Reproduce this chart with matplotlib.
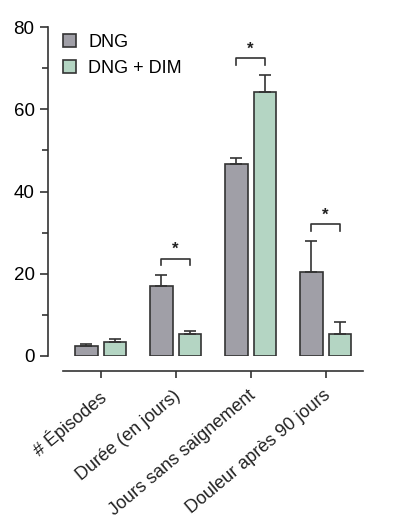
import matplotlib.pyplot as plt
import matplotlib.transforms as mtransforms
import numpy as np
from matplotlib.ticker import MultipleLocator

# Données
categories = ['# Épisodes', 'Durée (en jours)', 'Jours sans saignement', 'Douleur après 90 jours']
dng = [2.5, 17.0, 46.7, 20.4]
dng_err = [0.4, 2.7, 1.5, 7.6]
dim = [3.4, 5.3, 64.2, 5.3]
dim_err = [0.8, 0.8, 4.2, 3.0]
signif = [False, True, True, True]

plt.rcParams['font.family'] = ['Liberation Sans', 'DejaVu Sans']

fig = plt.figure(figsize=(3.96, 5.31), dpi=100)
ax = fig.add_axes([63/396, 1 - 356/531, 300/396, 329/531])

x = np.arange(len(categories))
w = 0.3
off = 0.19
gris = '#a09fa7'
vert = '#b4d5c3'
bord = '#333333'

ax.bar(x - off, dng, w, color=gris, edgecolor=bord, linewidth=1.2, label='DNG',
       yerr=[np.zeros(4), dng_err], capsize=4,
       error_kw=dict(ecolor=bord, elinewidth=1.2, capthick=1.2))
ax.bar(x + off, dim, w, color=vert, edgecolor=bord, linewidth=1.2, label='DNG + DIM',
       yerr=[np.zeros(4), dim_err], capsize=4,
       error_kw=dict(ecolor=bord, elinewidth=1.2, capthick=1.2))

# Crochets de significativité
for i, s in enumerate(signif):
    if not s:
        continue
    top = max(dng[i] + dng_err[i], dim[i] + dim_err[i]) + 4
    ax.plot([i - off, i - off, i + off, i + off], [top - 1.6, top, top, top - 1.6],
            color=bord, linewidth=1.2)
    ax.text(i, top + 0.4, '*', ha='center', va='bottom', fontsize=12, fontweight='bold', color='#222222')

ax.set_xlim(-0.5, 3.5)
ax.set_ylim(0, 80)
ax.set_yticks([0, 20, 40, 60, 80])
ax.yaxis.set_minor_locator(MultipleLocator(10))
ax.tick_params(axis='y', labelsize=13.5, length=6, width=1.2, color=bord)
ax.tick_params(axis='y', which='minor', length=4, width=1.2, color=bord)
ax.tick_params(axis='x', length=5, width=1.2, color=bord)
ax.set_xticks(x)
ax.set_xticklabels([])

# Étiquettes inclinées
trans = mtransforms.blended_transform_factory(ax.transData, ax.transAxes) + \
    mtransforms.ScaledTranslation(-3/100, -31/100, fig.dpi_scale_trans)
for i, c in enumerate(categories):
    ax.text(i, 0, c, transform=trans, rotation=40, rotation_mode='anchor',
            ha='right', va='top', fontsize=13, color='#222222')

for s in ['top', 'right']:
    ax.spines[s].set_visible(False)
ax.spines['left'].set_position(('outward', 11))
ax.spines['bottom'].set_position(('outward', 11))
ax.spines['left'].set_linewidth(1.2)
ax.spines['bottom'].set_linewidth(1.2)
ax.spines['left'].set_color(bord)
ax.spines['bottom'].set_color(bord)

ax.legend(loc='upper left', frameon=False, fontsize=13, handlelength=0.7, handleheight=0.7,
          borderpad=0, borderaxespad=0, labelspacing=0.5, handletextpad=0.7,
          bbox_to_anchor=(0.0, (356 - 34) / 329))

fig.savefig('out.png', dpi=100, facecolor='white')
